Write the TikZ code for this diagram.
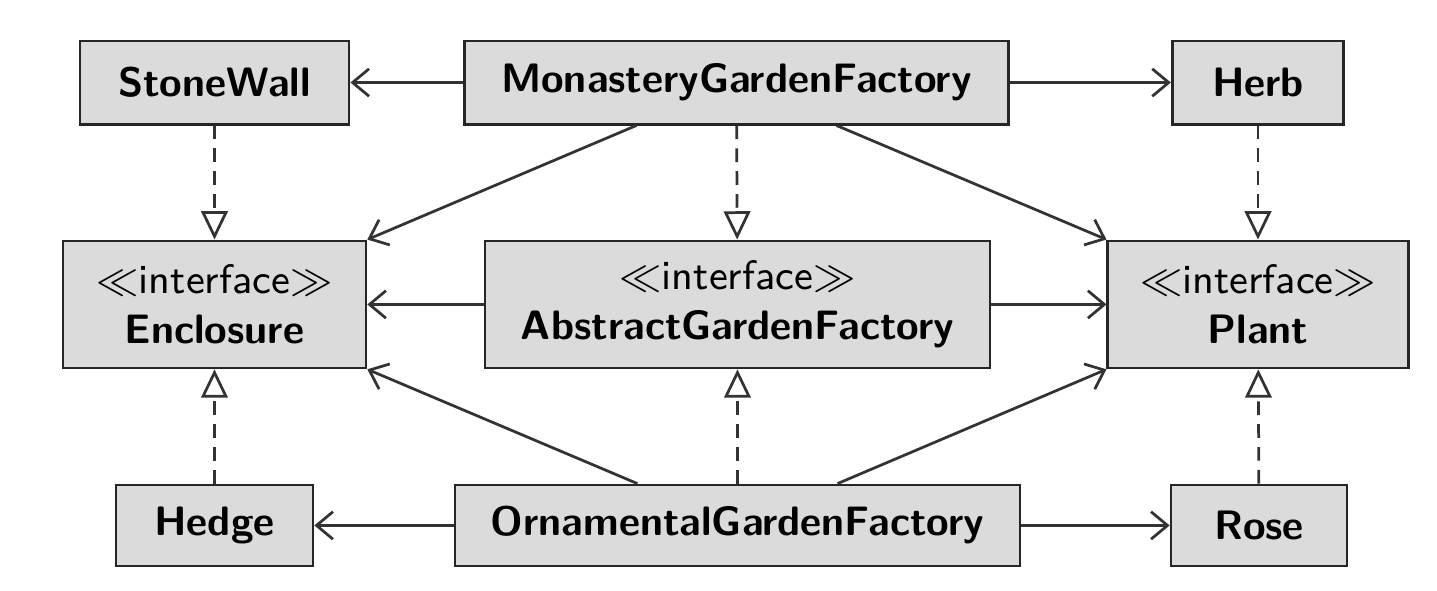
\documentclass[tikz,border=0pt]{standalone}
\usepackage{amsmath,amssymb}
\usetikzlibrary{arrows.meta, positioning}

\tikzset{
  cls/.style={draw=black!85, fill=black!14, semithick, inner sep=0pt,
    minimum height=0.64cm, font=\fontsize{9}{11}\selectfont\sffamily\bfseries, align=center},
  iface/.style={cls, minimum height=0.977cm},
  assoc/.style={-{Straight Barb[length=3.6pt, width=6pt]}, semithick, draw=black!80},
  realize/.style={-{Triangle[open, length=6.2pt, width=5.8pt]}, semithick,
    dash pattern=on 3pt off 2pt, draw=black!80},
}
\newcommand{\stereo}{{\mdseries$\ll$interface$\gg$}}

\begin{document}
\begin{tikzpicture}
\useasboundingbox (0,0) rectangle (11.054,-4.546);
\clip (0,0) rectangle (10.854,-4.546);
% top row
\node[cls, minimum width=2.07cm] (wall) at (1.65,-0.635) {StoneWall};
\node[cls, minimum width=4.18cm] (mgf) at (5.665,-0.635) {MonasteryGardenFactory};
\node[cls, minimum width=1.32cm] (herb) at (9.677,-0.635) {Herb};
% interfaces
\node[iface, minimum width=2.33cm] (encl) at (1.65,-2.342) {\stereo\\Enclosure};
\node[iface, minimum width=3.885cm] (agf) at (5.673,-2.342) {\stereo\\AbstractGardenFactory};
\node[iface, minimum width=2.31cm] (plant) at (9.677,-2.342) {\stereo\\Plant};
% bottom row
\node[cls, minimum width=1.515cm, minimum height=0.623cm] (hedge) at (1.65,-4.042) {Hedge};
\node[cls, minimum width=4.346cm, minimum height=0.623cm] (ogf) at (5.673,-4.042) {OrnamentalGardenFactory};
\node[cls, minimum width=1.354cm, minimum height=0.623cm] (rose) at (9.685,-4.042) {Rose};

\draw[assoc] (mgf) -- (wall);
\draw[assoc] (mgf) -- (herb);
\draw[assoc] (agf) -- (encl);
\draw[assoc] (agf) -- (plant);
\draw[assoc] (ogf) -- (hedge);
\draw[assoc] (ogf) -- (rose);
\draw[assoc] ([xshift=-0.77cm]mgf.south) -- (encl.north east);
\draw[assoc] ([xshift=0.77cm]mgf.south) -- (plant.north west);
\draw[assoc] ([xshift=-0.77cm]ogf.north) -- (encl.south east);
\draw[assoc] ([xshift=0.77cm]ogf.north) -- (plant.south west);

\draw[realize] (wall) -- (encl);
\draw[realize] (mgf) -- (agf);
\draw[realize] (herb) -- (plant);
\draw[realize] (hedge) -- (encl);
\draw[realize] (ogf) -- (agf);
\draw[realize] (rose) -- (plant);
\end{tikzpicture}
\end{document}
